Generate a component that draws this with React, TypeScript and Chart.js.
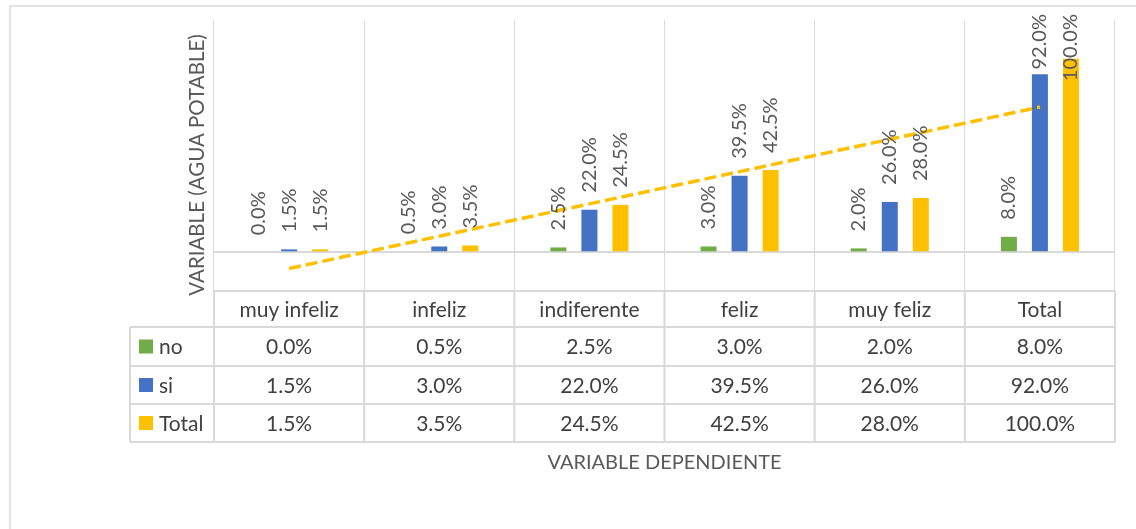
import { useEffect, useRef } from 'react';
import { Chart, registerables } from 'chart.js';

Chart.register(...registerables);

const categories = ['muy infeliz', 'infeliz', 'indiferente', 'feliz', 'muy feliz', 'Total'];
const noValues = [0.0, 0.5, 2.5, 3.0, 2.0, 8.0];
const siValues = [1.5, 3.0, 22.0, 39.5, 26.0, 92.0];
const totalValues = [1.5, 3.5, 24.5, 42.5, 28.0, 100.0];
const seriesNames = ['no', 'si', 'Total'];
const seriesColors = ['#70AD47', '#4472C4', '#FFC000'];
const yAxisTitle = 'VARIABLE (AGUA POTABLE)';
const xAxisTitle = 'VARIABLE DEPENDIENTE';

// Linear trendline (least squares) of the Total series, as Excel draws it
function linearTrend(values: number[]): number[] {
  const n = values.length;
  const xs = values.map((_, i) => i + 1);
  const mx = xs.reduce((a, b) => a + b, 0) / n;
  const my = values.reduce((a, b) => a + b, 0) / n;
  let sxy = 0;
  let sxx = 0;
  for (let i = 0; i < n; i++) {
    sxy += (xs[i] - mx) * (values[i] - my);
    sxx += (xs[i] - mx) * (xs[i] - mx);
  }
  const slope = sxy / sxx;
  return xs.map((x) => my + slope * (x - mx));
}

const FONT = 'Lato, "Open Sans", sans-serif';
const GRID = '#D9D9D9';
const LABEL_COLOR = '#595959';
const TABLE_TEXT = '#404040';

const fmt = (v: number) => v.toFixed(1) + '%';

const framePlugin = {
  id: 'frame',
  beforeDraw(chart: any) {
    const { ctx, width, height } = chart;
    ctx.save();
    ctx.fillStyle = '#ffffff';
    ctx.fillRect(0, 0, width, height);
    ctx.strokeStyle = GRID;
    ctx.lineWidth = 1.5;
    ctx.beginPath();
    ctx.moveTo(10, height);
    ctx.lineTo(10, 6);
    ctx.lineTo(width, 6);
    ctx.stroke();
    ctx.restore();
  },
};

const labelPlugin = {
  id: 'barLabels',
  afterDatasetsDraw(chart: any) {
    const { ctx } = chart;
    ctx.save();
    ctx.font = `20px ${FONT}`;
    ctx.fillStyle = LABEL_COLOR;
    ctx.textAlign = 'left';
    ctx.textBaseline = 'middle';
    for (let d = 0; d < 3; d++) {
      const meta = chart.getDatasetMeta(d);
      const data = chart.data.datasets[d].data as number[];
      meta.data.forEach((bar: any, i: number) => {
        const text = fmt(data[i]);
        const w = ctx.measureText(text).width;
        let start = bar.y - 17;
        if (start - w < 14) start = 14 + w;
        ctx.save();
        ctx.translate(bar.x, start);
        ctx.rotate(-Math.PI / 2);
        ctx.fillText(text, 0, 0);
        ctx.restore();
      });
    }
    ctx.restore();
  },
};

const tablePlugin = {
  id: 'dataTable',
  afterDraw(chart: any) {
    const { ctx, chartArea } = chart;
    const xs = chart.scales.x;
    const n = categories.length;
    const step = xs.getPixelForValue(1) - xs.getPixelForValue(0);
    const edges: number[] = [];
    for (let i = 0; i < n; i++) edges.push(xs.getPixelForValue(i) - step / 2);
    edges.push(xs.getPixelForValue(n - 1) + step / 2);
    const tableLeft = 130;
    const top = chartArea.bottom;
    const rows = [top, top + 36, top + 75, top + 113, top + 151];

    ctx.save();
    ctx.strokeStyle = GRID;
    ctx.lineWidth = 2;
    ctx.beginPath();
    ctx.moveTo(edges[0], rows[0]);
    ctx.lineTo(edges[n], rows[0]);
    for (let r = 1; r < rows.length; r++) {
      ctx.moveTo(tableLeft, rows[r]);
      ctx.lineTo(edges[n], rows[r]);
    }
    for (let i = 0; i <= n; i++) {
      ctx.moveTo(edges[i], rows[0]);
      ctx.lineTo(edges[i], rows[4]);
    }
    ctx.moveTo(tableLeft, rows[1]);
    ctx.lineTo(tableLeft, rows[4]);
    ctx.stroke();

    ctx.font = `21px ${FONT}`;
    ctx.fillStyle = TABLE_TEXT;
    ctx.textBaseline = 'middle';
    ctx.textAlign = 'center';
    categories.forEach((c, i) => {
      ctx.fillText(c, xs.getPixelForValue(i), (rows[0] + rows[1]) / 2 + 1);
    });
    const series = [noValues, siValues, totalValues];
    series.forEach((vals, r) => {
      const cy = (rows[r + 1] + rows[r + 2]) / 2 + 1;
      ctx.textAlign = 'center';
      ctx.fillStyle = TABLE_TEXT;
      vals.forEach((v, i) => ctx.fillText(fmt(v), xs.getPixelForValue(i), cy));
      ctx.fillStyle = seriesColors[r];
      ctx.fillRect(139, cy - 8, 14, 14);
      ctx.fillStyle = TABLE_TEXT;
      ctx.textAlign = 'left';
      ctx.fillText(seriesNames[r], 159, cy);
    });

    // axis titles
    ctx.fillStyle = LABEL_COLOR;
    ctx.font = `20px ${FONT}`;
    ctx.textAlign = 'center';
    ctx.fillText(xAxisTitle, (chartArea.left + chartArea.right) / 2, 463);
    ctx.save();
    ctx.translate(197, 165);
    ctx.rotate(-Math.PI / 2);
    ctx.font = `20.5px ${FONT}`;
    ctx.fillText(yAxisTitle, 0, 0);
    ctx.restore();
    ctx.restore();
  },
};

export default function App() {
  const canvasRef = useRef<HTMLCanvasElement | null>(null);

  useEffect(() => {
    document.body.style.margin = '0';
    const canvas = canvasRef.current;
    if (!canvas) return;
    const values = [noValues, siValues, totalValues];
    const chart = new Chart(canvas, {
      type: 'bar',
      data: {
        labels: categories,
        datasets: [
          ...values.map((vals, i) => ({
            type: 'bar' as const,
            label: seriesNames[i],
            data: vals,
            backgroundColor: seriesColors[i],
            borderWidth: 0,
            categoryPercentage: 0.62,
            barPercentage: 0.516,
            order: 1,
          })),
          {
            type: 'line' as const,
            label: 'Lineal (Total)',
            data: linearTrend(totalValues),
            borderColor: '#FFC000',
            borderWidth: 3.5,
            borderDash: [12, 5],
            borderCapStyle: 'butt',
            pointRadius: 0,
            fill: false,
            tension: 0,
            order: 0,
          } as any,
        ],
      },
      options: {
        animation: false,
        responsive: true,
        maintainAspectRatio: false,
        devicePixelRatio: 1,
        layout: { padding: { left: 214, right: 21, top: 20, bottom: 238 } },
        plugins: {
          legend: { display: false },
          tooltip: { enabled: false },
        },
        scales: {
          x: {
            offset: true,
            ticks: { display: false },
            border: { display: false },
            grid: { display: true, offset: true, color: GRID, lineWidth: 1, drawTicks: false },
          },
          y: {
            min: -20,
            max: 120,
            ticks: { display: false, stepSize: 20 },
            border: { display: false },
            grid: {
              drawTicks: false,
              lineWidth: 2,
              color: (c: any) => (c.tick && Math.abs(c.tick.value) < 1e-9 ? GRID : 'rgba(0,0,0,0)'),
            },
          },
        },
      },
      plugins: [framePlugin, labelPlugin, tablePlugin],
    });
    return () => chart.destroy();
  }, []);

  return (
    <div style={{ position: 'fixed', left: 0, top: 0, width: 1136, height: 529 }}>
      <canvas ref={canvasRef} />
    </div>
  );
}
